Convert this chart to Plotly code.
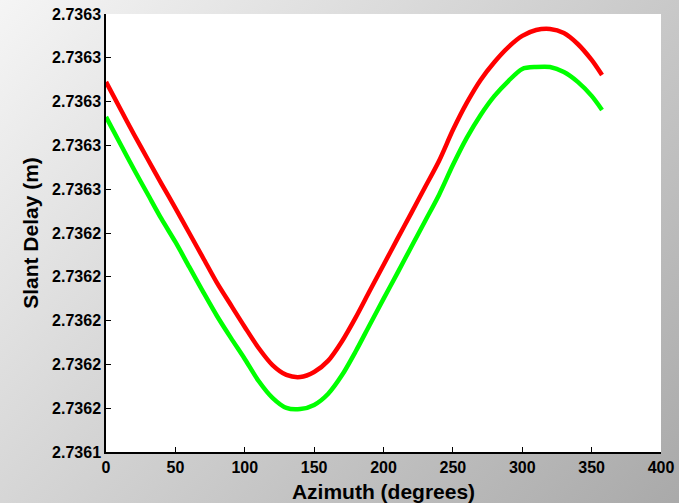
import base64
import plotly.graph_objects as go

azimuth = [0, 10, 20, 30, 40, 50, 60, 70, 80, 90, 100, 110, 120, 130, 140, 150, 160, 170,
           180, 190, 200, 210, 220, 230, 240, 250, 260, 270, 280, 290, 300, 310, 320, 330,
           340, 350, 357.5]

delay_red = [2.7362990, 2.7362871, 2.7362752, 2.7362638, 2.7362524, 2.7362414, 2.7362300,
             2.7362186, 2.7362072, 2.7361971, 2.7361871, 2.7361775, 2.7361697, 2.7361652,
             2.7361642, 2.7361665, 2.7361716, 2.7361805, 2.7361915, 2.7362035, 2.7362154,
             2.7362273, 2.7362391, 2.7362510, 2.7362629, 2.7362770, 2.7362894, 2.7362999,
             2.7363081, 2.7363149, 2.7363200, 2.7363227, 2.7363232, 2.7363213, 2.7363163,
             2.7363090, 2.7363021]

delay_green = [2.7362830, 2.7362711, 2.7362592, 2.7362478, 2.7362364, 2.7362259, 2.7362145,
               2.7362031, 2.7361921, 2.7361821, 2.7361725, 2.7361624, 2.7361547, 2.7361501,
               2.7361496, 2.7361515, 2.7361565, 2.7361650, 2.7361760, 2.7361880, 2.7361999,
               2.7362117, 2.7362236, 2.7362355, 2.7362474, 2.7362610, 2.7362734, 2.7362839,
               2.7362926, 2.7362994, 2.7363049, 2.7363058, 2.7363058, 2.7363035, 2.7362990,
               2.7362926, 2.7362862]

y_tickvals = [2.73613 + k * 0.00002 for k in range(11)]
y_ticktext = ["2.7361", "2.7362", "2.7362", "2.7362", "2.7362", "2.7362",
              "2.7363", "2.7363", "2.7363", "2.7363", "2.7363"]
x_tickvals = [0, 50, 100, 150, 200, 250, 300, 350, 400]

W, H = 679, 503
ML, MR, MT, MB = 106, 18, 14, 51

svg = (f'<svg xmlns="http://www.w3.org/2000/svg" width="{W}" height="{H}" viewBox="0 0 {W} {H}" preserveAspectRatio="none">'
       '<defs><linearGradient id="g" gradientUnits="userSpaceOnUse" x1="0" y1="0" x2="640" y2="600">'
       '<stop offset="0" stop-color="#f5f5f5"/><stop offset="1" stop-color="#a6a6a6"/>'
       '</linearGradient></defs>'
       f'<rect x="0" y="0" width="{W}" height="{H}" fill="url(#g)"/></svg>')
src = "data:image/svg+xml;base64," + base64.b64encode(svg.encode()).decode()

pw = W - ML - MR
ph = H - MT - MB

fig = go.Figure()
fig.add_trace(go.Scatter(x=azimuth, y=delay_red, mode="lines",
                         line=dict(color="#ff0000", width=4.5, shape="spline", smoothing=0.8),
                         showlegend=False))
fig.add_trace(go.Scatter(x=azimuth, y=delay_green, mode="lines",
                         line=dict(color="#00ff00", width=4.5, shape="spline", smoothing=0.8),
                         showlegend=False))

fig.add_layout_image(dict(source=src, xref="paper", yref="paper",
                          x=-ML / pw, y=1 + MT / ph, sizex=W / pw, sizey=H / ph,
                          xanchor="left", yanchor="top", sizing="stretch", layer="below"))
fig.add_shape(type="rect", xref="paper", yref="paper", x0=0, x1=1, y0=0, y1=1,
              fillcolor="white", line=dict(width=0), layer="below")

font_main = "Liberation Sans, Arial, sans-serif"
fig.update_layout(
    width=W, height=H,
    margin=dict(l=ML, r=MR, t=MT, b=MB, autoexpand=False),
    paper_bgcolor="#e0e0e0",
    plot_bgcolor="white",
    font=dict(family=font_main, color="black"),
    xaxis=dict(range=[0, 400], tickvals=x_tickvals, ticks="inside", ticklen=5,
               tickcolor="black", showline=True, linecolor="black", linewidth=1.5,
               showgrid=False, zeroline=False, automargin=False,
               tickfont=dict(size=16, family=font_main, weight="bold"),
               title=dict(text="<b>Azimuth (degrees)</b>", font=dict(size=21), standoff=11)),
    yaxis=dict(range=[2.73613, 2.73633], tickvals=y_tickvals, ticktext=y_ticktext,
               ticks="inside", ticklen=5, tickcolor="black", showline=True,
               linecolor="black", linewidth=1.5, showgrid=False, zeroline=False,
               automargin=False,
               tickfont=dict(size=16, family=font_main, weight="bold"),
               title=dict(text="<b>Slant Delay (m)</b>", font=dict(size=21), standoff=8)),
)

fig.write_html("out.html")
